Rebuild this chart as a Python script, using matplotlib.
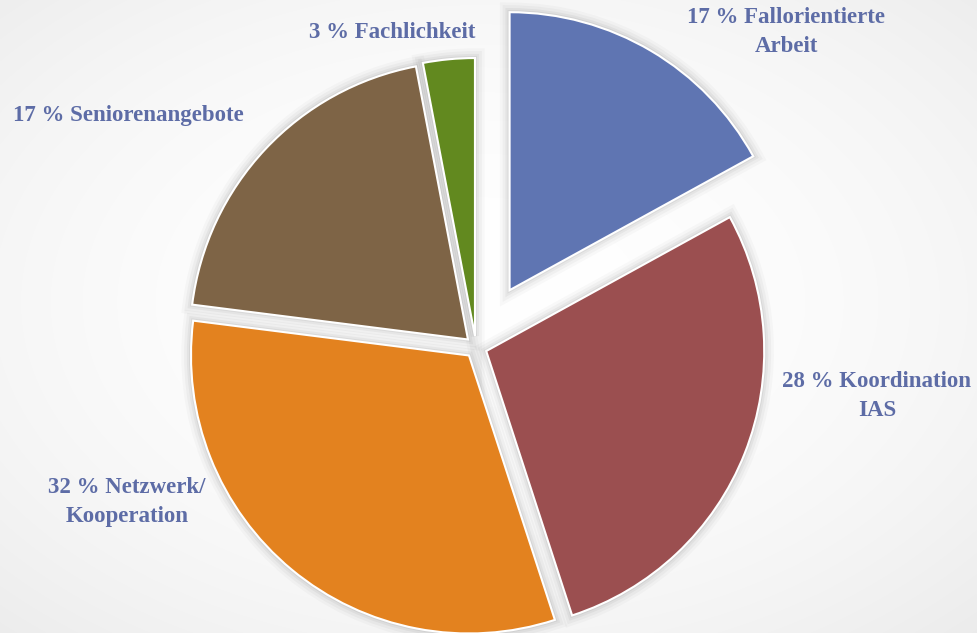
import numpy as np
import matplotlib
matplotlib.use("Agg")
import matplotlib.pyplot as plt

# Data
categories = ["Fallorientierte Arbeit", "Koordination IAS", "Netzwerk/Kooperation",
              "Seniorenangebote", "Fachlichkeit"]
values = [17, 28, 32, 20, 3]
label_texts = ["17 % Fallorientierte\nArbeit", "28 % Koordination\nIAS",
               "32 % Netzwerk/\nKooperation", "17 % Seniorenangebote", "3 % Fachlichkeit"]

# Style
colors = ["#5F75B2", "#9B4F50", "#E3821F", "#7E6446", "#62891F"]
explode = [66, 11, 11, 11, 11]
label_pos = [(786, 601), (877, 237), (127, 131), (128, 518), (392, 601)]
text_color = "#5D6CA6"

W, H = 978, 633
fig = plt.figure(figsize=(W / 100, H / 100), dpi=100)
ax = fig.add_axes([0, 0, 1, 1])
ax.set_xlim(0, W)
ax.set_ylim(0, H)
ax.axis("off")

# subtle radial background
yy, xx = np.mgrid[0:H, 0:W]
d = np.sqrt(((xx - 480) / W) ** 2 + ((yy - 330) / H) ** 2)
g = 1 - 0.08 * np.clip(d / 0.75, 0, 1) ** 2
bg = np.dstack([g, g, g])
ax.imshow(bg, extent=[0, W, 0, H], origin="lower", zorder=0, aspect="auto")

center = (476, 286)
radius = 278

# soft shadows
for lw, a in [(14, 0.025), (10, 0.03), (6, 0.04), (3, 0.05)]:
    wedges, _ = ax.pie(values, explode=explode, center=center, radius=radius,
                       startangle=90, counterclock=False, frame=True,
                       wedgeprops=dict(facecolor="none", edgecolor=(0, 0, 0, a),
                                       linewidth=lw))
    for w in wedges:
        w.set_zorder(1)

wedges, _ = ax.pie(values, explode=explode, center=center, radius=radius,
                   colors=colors, startangle=90, counterclock=False, frame=True,
                   wedgeprops=dict(edgecolor="white", linewidth=1.5))
for w in wedges:
    w.set_zorder(2)

ax.set_xlim(0, W)
ax.set_ylim(0, H)
ax.set_aspect("auto")
ax.axis("off")

for txt, (x, y) in zip(label_texts, label_pos):
    ax.text(x, y, txt, ha="center", va="center", fontsize=16.5, fontweight="bold",
            family="Liberation Serif", color=text_color, linespacing=1.45, zorder=3)

fig.savefig("out.png", dpi=100)
